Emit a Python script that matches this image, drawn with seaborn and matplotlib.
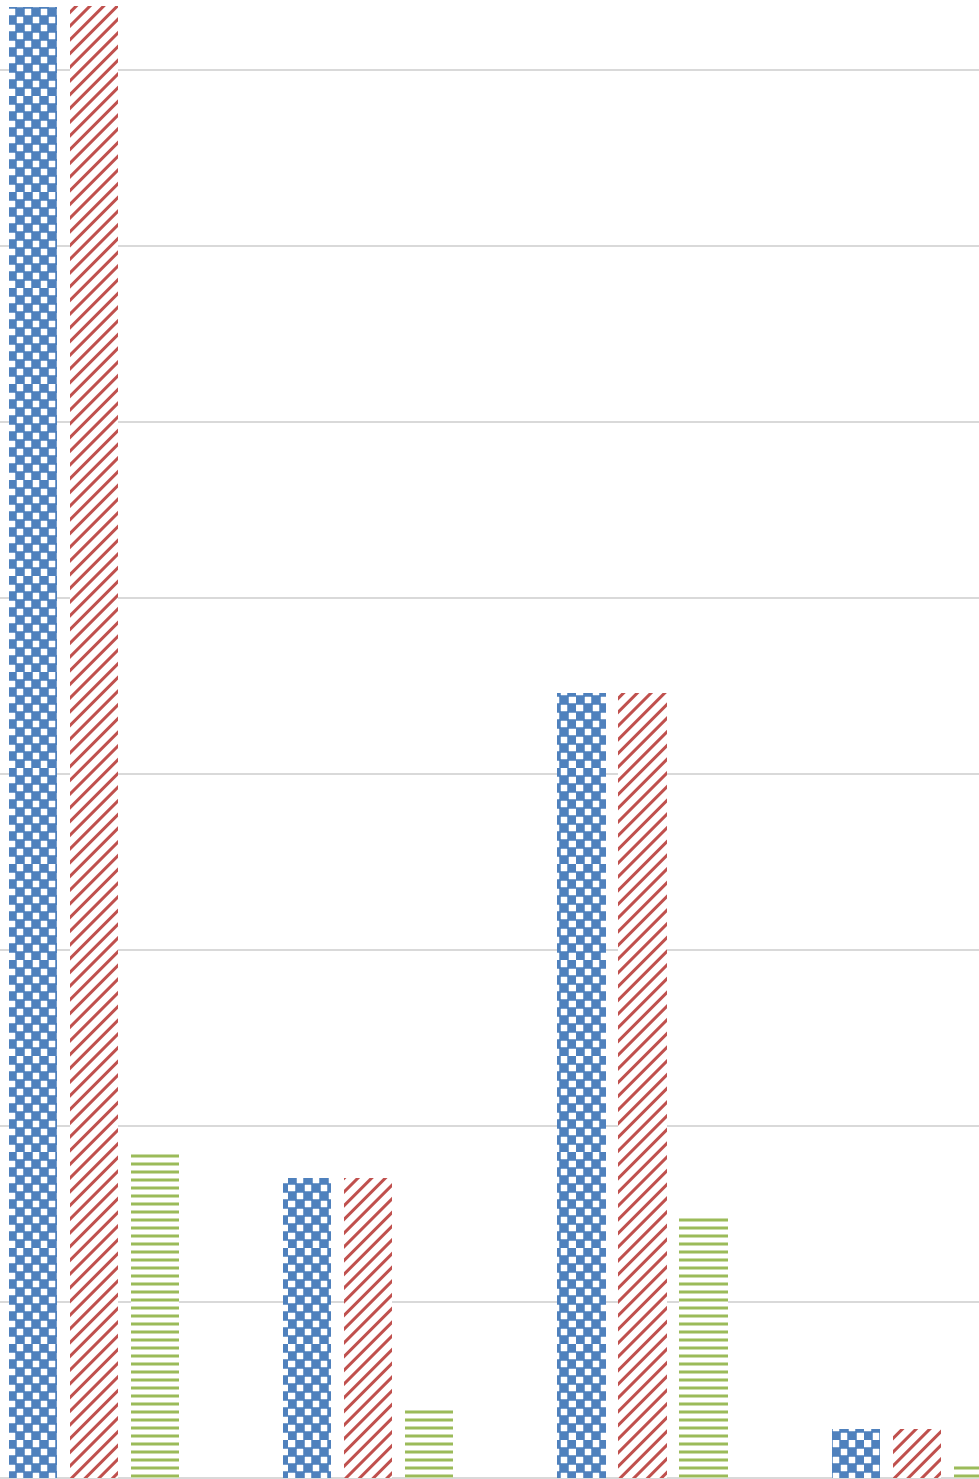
import numpy as np
import pandas as pd
import matplotlib
matplotlib.use("Agg")
import matplotlib.pyplot as plt
import seaborn as sns
from matplotlib import hatch as mhatch
from matplotlib.path import Path

# ---- data -------------------------------------------------------------
categories = ["Q1", "Q2", "Q3", "Q4"]
series_names = ["Series 1", "Series 2", "Series 3"]
series1 = [167.2, 34.1, 89.2, 5.6]
series2 = [167.3, 34.1, 89.2, 5.6]
series3 = [37.0, 8.2, 29.9, 1.6]
y_ticks = [0, 20, 40, 60, 80, 100, 120, 140, 160]

colors = ["#4F81BD", "#C0504D", "#9BBB59"]
hatches = ["*", "/", "--"]

DPI = 96


# ---- custom fill patterns ---------------------------------------------
class CheckerHatch(mhatch.HatchPatternBase):
    """Checkerboard of small filled squares, triggered by '*'."""
    cells = 12
    side = 6.5 / DPI

    def __init__(self, hatch, density):
        on = hatch.count("*") > 0
        self.n_squares = (self.cells * self.cells) // 2 if on else 0
        self.num_vertices = self.n_squares * 5

    def set_vertices_and_codes(self, vertices, codes):
        n = self.cells
        c = 1.0 / n
        h = self.side / 2
        k = 0
        for i in range(n):
            for j in range(n):
                if (i + j) % 2 == 0:
                    cx, cy = (i + 0.5) * c, (j + 0.5) * c
                    vertices[k * 5:(k + 1) * 5] = [
                        (cx - h, cy - h), (cx + h, cy - h), (cx + h, cy + h),
                        (cx - h, cy + h), (cx - h, cy - h)]
                    codes[k * 5] = Path.MOVETO
                    codes[k * 5 + 1:k * 5 + 4] = Path.LINETO
                    codes[k * 5 + 4] = Path.CLOSEPOLY
                    k += 1


class DiagonalHatch(mhatch.HatchPatternBase):
    """Rising 45-degree stripes, seven per hatch unit for each '/'."""

    def __init__(self, hatch, density):
        self.per_unit = hatch.count("/") * 7
        self.num_vertices = (2 * self.per_unit + 1) * 2 if self.per_unit else 0

    def set_vertices_and_codes(self, vertices, codes):
        k = self.per_unit
        offsets = np.arange(-k, k + 1) / k
        vertices[0::2, 0] = 0.0
        vertices[0::2, 1] = offsets
        vertices[1::2, 0] = 1.0
        vertices[1::2, 1] = 1.0 + offsets
        codes[0::2] = Path.MOVETO
        codes[1::2] = Path.LINETO


mhatch._hatch_types = [mhatch.HorizontalHatch, DiagonalHatch, CheckerHatch]

# ---- frame ------------------------------------------------------------
sns.set_style("white")
plt.rcParams["hatch.linewidth"] = 2.25

df = pd.DataFrame({
    "category": np.repeat(categories, len(series_names)),
    "series": series_names * len(categories),
    "value": np.ravel(np.column_stack([series1, series2, series3])),
})

fig = plt.figure(figsize=(979 / DPI, 1479 / DPI), dpi=DPI)
ax = fig.add_axes([0, 0, 1, 1])

sns.barplot(data=df, x="category", y="value", hue="series",
            order=categories, hue_order=series_names,
            palette=colors, width=0.667, gap=0.209,
            legend=False, ax=ax, errorbar=None)

for container, col, h in zip(ax.containers, colors, hatches):
    for bar in container:
        bar.set_facecolor("white")
        bar.set_edgecolor(col)
        bar.set_linewidth(0)
        bar.set_hatch(h)
        bar.set_zorder(3)

ax.set_xlim(-0.3427, 3.2265)
ax.set_ylim(-0.1136, 1478 / 176 * 20)
ax.set_yticks(y_ticks)
ax.yaxis.grid(True, color="#D9D9D9", linewidth=1.5)
ax.set_axisbelow(True)
ax.tick_params(left=False, bottom=False, labelleft=False, labelbottom=False)
for s in ax.spines.values():
    s.set_visible(False)
ax.set_xlabel("")
ax.set_ylabel("")

fig.savefig("out.png", dpi=DPI)
